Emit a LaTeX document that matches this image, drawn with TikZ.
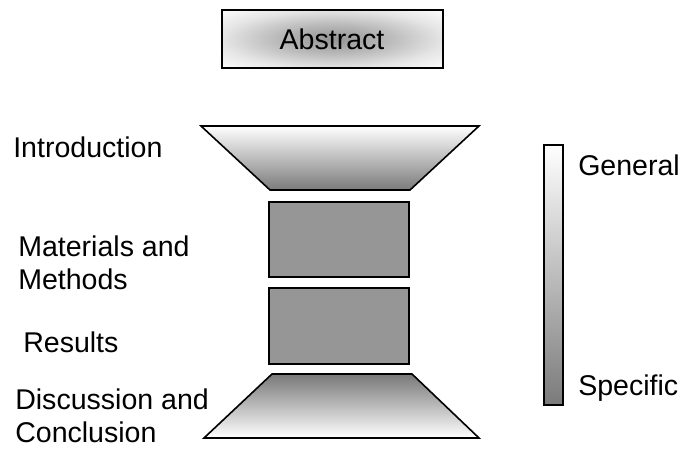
\documentclass[tikz,border=0pt]{standalone}
\usepackage{fontspec}
\setmainfont{Liberation Sans}
\pgfdeclareradialshading{abstractglow}{\pgfpoint{0bp}{0bp}}{color(0bp)=(black!42); color(12bp)=(black!28); color(25bp)=(black!10); color(33bp)=(black!3); color(50bp)=(white)}
\tikzset{
	partlabel/.style={anchor=base west, inner sep=0pt, align=left, font=\fontsize{20.3}{22.8}\selectfont},
	partbox/.style={draw=black, line width=0.5mm, fill=black!41},
	funnel/.style={draw=black, line width=0.4mm, line join=miter}
}

\begin{document}
\begin{tikzpicture}[x=0.025cm, y=-0.025cm]
		%%%%% START %%%%%
		\useasboundingbox (0, 0) rectangle (685, 448);
		
		% abstract
		\draw[line width=0.5mm, shading=abstractglow] (222, 10) rectangle (443, 68);
		\node[font=\fontsize{20.3}{22.8}\selectfont, inner sep=0pt] (abstract) at (332, 39) {Abstract};
		
		% introduction
		\draw[funnel, top color=white, bottom color=black!52] (201, 126) -- (479, 126) -- (410, 190) -- (270, 190) -- cycle;
		
		% materials and methods, results
		\draw[partbox] (269, 202) rectangle (409, 277);
		\draw[partbox] (269, 288) rectangle (409, 364);
		
		% discussion and conclusion
		\draw[funnel, top color=black!53, bottom color=white] (272, 374) -- (412, 374) -- (479, 438) -- (204, 438) -- cycle;
		
		% scale bar
		\draw[line width=0.3mm, top color=white, bottom color=black!52] (544, 145) rectangle (563, 405);
		
		% labels (base = last line)
		\node[partlabel] (intro) at (13, 157) {Introduction};
		\node[partlabel] (methods) at (18, 289) {Materials and\\Methods};
		\node[partlabel] (results) at (23, 352) {Results};
		\node[partlabel] (discussion) at (15, 442) {Discussion and\\Conclusion};
		
		\node[partlabel] (general) at (578, 175) {General};
		\node[partlabel] (specific) at (578, 395) {Specific};
		
		%%%%% END %%%%%
	\end{tikzpicture}
\end{document}
